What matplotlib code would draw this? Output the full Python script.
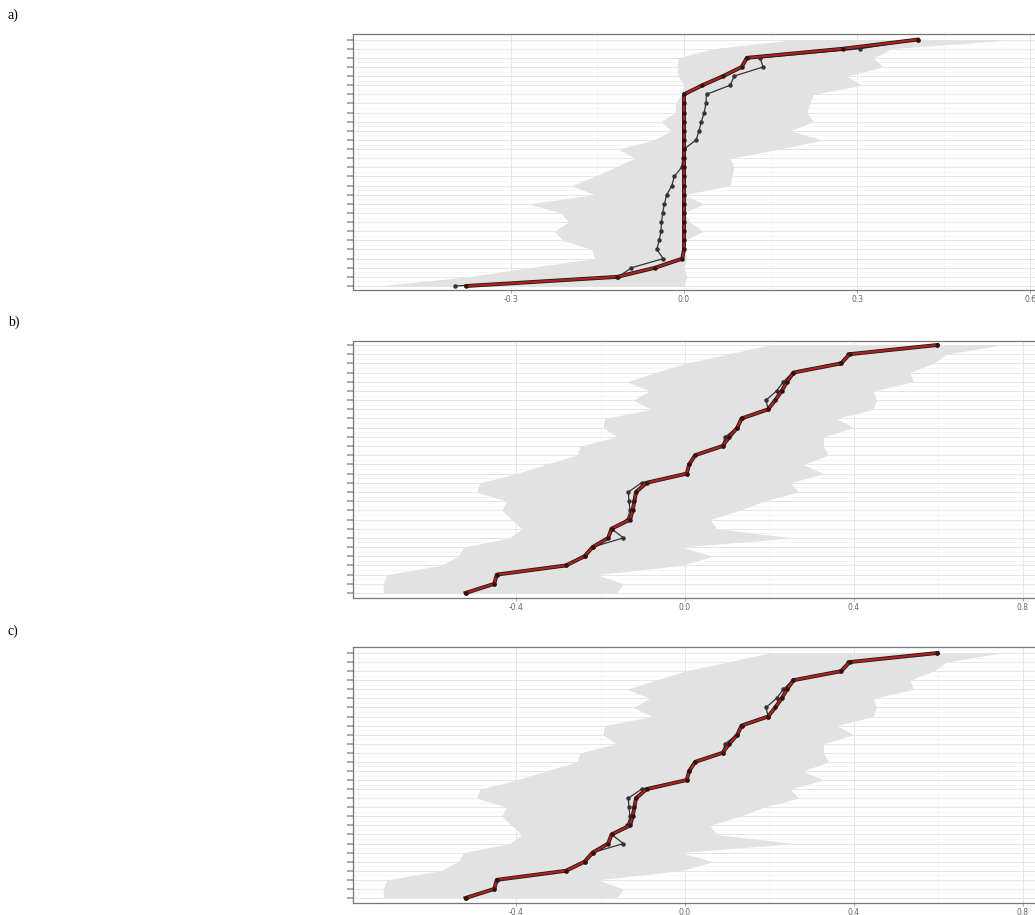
import matplotlib
matplotlib.use("Agg")
import matplotlib.pyplot as plt
import numpy as np

# rows 1..28, bottom to top
rows = np.arange(1, 29)

# ---- panel a ----
a_black = [-0.397, -0.114, -0.091, -0.036, -0.047, -0.043, -0.040, -0.039, -0.037, -0.034,
           -0.030, -0.021, -0.017, -0.004, -0.002, 0.000, 0.021, 0.026, 0.030, 0.035,
           0.038, 0.039, 0.080, 0.087, 0.137, 0.132, 0.305, 0.405]
a_red = [-0.377, -0.116, -0.050, -0.003, 0.0, 0.0, 0.0, 0.0, 0.0, 0.0,
         0.0, 0.0, 0.0, 0.0, 0.0, 0.0, 0.0, 0.0, 0.0, 0.0,
         0.0, 0.0, 0.032, 0.068, 0.100, 0.109, 0.276, 0.405]
a_low = [-0.53, -0.376, -0.27, -0.155, -0.16, -0.21, -0.225, -0.20, -0.213, -0.27,
         -0.155, -0.195, -0.155, -0.12, -0.085, -0.114, -0.053, -0.022, -0.04, -0.015,
         -0.015, -0.005, 0.0, -0.01, -0.012, -0.01, 0.05, 0.19]
a_high = [0.0, 0.005, 0.0, 0.005, 0.0, 0.0, 0.034, 0.01, 0.0, 0.034,
          0.0, 0.08, 0.083, 0.086, 0.08, 0.166, 0.241, 0.184, 0.224, 0.213,
          0.218, 0.224, 0.308, 0.282, 0.345, 0.328, 0.36, 0.572]
a_ticks = [-0.3, 0.0, 0.3, 0.6]

# ---- panel b ----
b_black = [-0.520, -0.452, -0.446, -0.282, -0.238, -0.219, -0.146, -0.174, -0.137, -0.130,
           -0.133, -0.134, -0.103, 0.004, 0.010, 0.024, 0.089, 0.095, 0.124, 0.134,
           0.197, 0.192, 0.217, 0.233, 0.255, 0.367, 0.387, 0.598]
b_red = [-0.520, -0.452, -0.446, -0.282, -0.238, -0.219, -0.182, -0.174, -0.130, -0.124,
         -0.120, -0.116, -0.091, 0.004, 0.010, 0.024, 0.089, 0.105, 0.124, 0.134,
         0.197, 0.214, 0.229, 0.242, 0.257, 0.370, 0.390, 0.598]
b_low = [-0.715, -0.715, -0.707, -0.58, -0.537, -0.525, -0.415, -0.387, -0.411, -0.434,
         -0.423, -0.494, -0.486, -0.399, -0.33, -0.256, -0.249, -0.162, -0.195, -0.19,
         -0.079, -0.123, -0.083, -0.138, -0.07, 0.0, 0.10, 0.20]
b_high = [-0.162, -0.146, -0.209, -0.01, 0.067, -0.01, 0.257, 0.075, 0.059, 0.13,
          0.186, 0.269, 0.249, 0.328, 0.28, 0.34, 0.328, 0.328, 0.399, 0.359,
          0.446, 0.454, 0.446, 0.541, 0.533, 0.588, 0.62, 0.75]
b_ticks = [-0.4, 0.0, 0.4, 0.8]

# ---- panel c (same results as b) ----
c_black = list(b_black)
c_red = list(b_red)
c_low = list(b_low)
c_high = list(b_high)
c_ticks = [-0.4, 0.0, 0.4, 0.8]

W, H = 1035, 915


def draw_panel(top_px, bot_px, row1_px, row28_px, x0_px, px_per_unit,
               black, red, low, high, ticks, letter, letter_y):
    left_px = 353
    right_px = 1045
    ax = fig.add_axes([left_px / W, 1 - bot_px / H,
                       (right_px - left_px) / W, (bot_px - top_px) / H])
    ax.set_xlim((left_px - x0_px) / px_per_unit, (right_px - x0_px) / px_per_unit)
    step = (row1_px - row28_px) / 27
    ax.set_ylim(1 - (bot_px - row1_px) / step, 28 + (row28_px - top_px) / step)

    # grid
    ax.set_yticks(rows)
    ax.set_yticks(rows[:-1] + 0.5, minor=True)
    ax.set_xticks(ticks)
    ax.set_xticks(np.array(ticks[:-1]) + (ticks[1] - ticks[0]) / 2, minor=True)
    ax.grid(True, which="major", color="#e6e6e6", lw=0.7)
    ax.grid(True, which="minor", color="#f3f3f3", lw=0.5)
    ax.set_axisbelow(True)

    # band + lines
    ax.fill_betweenx(rows, low, high, color="#e2e2e2", lw=0, zorder=1)
    ax.plot(black, rows, color="#333333", lw=0.9, marker="o", ms=2.2, zorder=3)
    ax.plot(red, rows, color="#1a1a1a", lw=2.8, zorder=4)
    ax.plot(red, rows, color="#b0211e", lw=1.6, marker="o", ms=2.2,
            mfc="#3a0d0d", mec="#3a0d0d", zorder=5)

    # ticks and frame
    ax.set_yticklabels([""] * len(rows))
    ax.set_xticklabels([f"{t:.1f}" for t in ticks])
    ax.tick_params(axis="x", which="major", length=2, width=0.6, colors="#9a9a9a",
                   labelcolor="#666666", labelsize=5.5, pad=1.5)
    ax.tick_params(axis="y", which="major", length=4, width=1.4, colors="#a8a8a8")
    ax.tick_params(which="minor", length=0)
    for s in ax.spines.values():
        s.set_color("#777777")
        s.set_linewidth(0.9)
    ax.spines["right"].set_visible(False)

    fig.text(8 / W, 1 - letter_y / H, letter, fontsize=10,
             family="Liberation Serif", va="center", ha="left")
    return ax


fig = plt.figure(figsize=(W / 100, H / 100), dpi=100)

draw_panel(34, 290, 286, 39.6, 684, 577, a_black, a_red, a_low, a_high, a_ticks, "a)", 15)
draw_panel(341, 598, 593, 345, 685, 422, b_black, b_red, b_low, b_high, b_ticks, "b)", 322)
draw_panel(647, 903, 898, 653, 685, 422, c_black, c_red, c_low, c_high, c_ticks, "c)", 631)

fig.savefig("out.png", dpi=100)
